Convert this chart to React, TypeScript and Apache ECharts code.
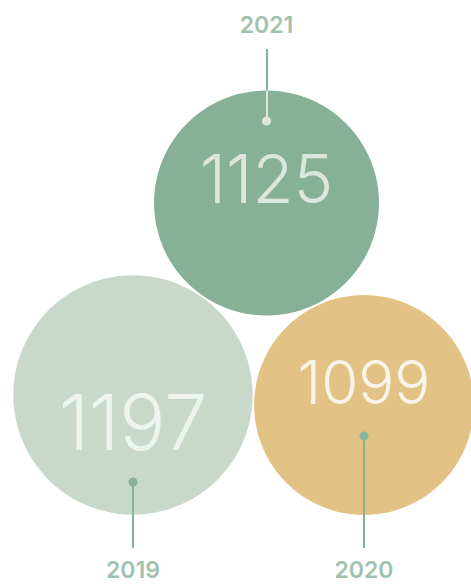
import React, { useEffect, useRef } from 'react';
import * as echarts from 'echarts';

// Data
const years = ['2019', '2020', '2021'];
const values = [1197, 1099, 1125];

// Styles
const bubbleColors = ['#c8d9cc', '#e2c285', '#86b197'];
const valueTextColors = ['#eef4ef', '#faf3e7', '#dbe7de'];
const dotColors = ['#86b197', '#86b5a0', '#dce6de'];
const innerLineColors = ['#86b197', '#86b197', '#dce6de'];
const labelColor = '#86b197';

// Layout (chart units == pixels)
const centerX = [133, 364, 266.5];
const centerY = [395, 405, 203];
const valueFontSize = [77, 60, 67];
const valueOffsetY = [27, -23, -25];
const dotY = [482, 436, 121];
const labelY = [570, 570, 25];
const lineEndY = [548, 548, 49];

export default function App() {
  const ref = useRef<HTMLDivElement>(null);
  useEffect(() => {
    if (!ref.current) return;
    const chart = echarts.init(ref.current, null, { renderer: 'svg' });
    const radius = (v: number) => v / 10;
    const edgeY = (i: number) =>
      labelY[i] < centerY[i] ? centerY[i] - radius(values[i]) : centerY[i] + radius(values[i]);

    chart.setOption({
      animation: false,
      grid: { left: 0, right: 0, top: 0, bottom: 0 },
      xAxis: { type: 'value', min: 0, max: 471, show: false },
      yAxis: { type: 'value', min: 0, max: 584, inverse: true, show: false },
      series: [
        {
          type: 'lines',
          coordinateSystem: 'cartesian2d',
          z: 1,
          silent: true,
          data: years.map((_, i) => ({
            coords: [
              [centerX[i], edgeY(i)],
              [centerX[i], lineEndY[i]],
            ],
            lineStyle: { color: labelColor, width: 2, opacity: 1 },
          })),
        },
        {
          type: 'scatter',
          z: 2,
          silent: true,
          data: values.map((v, i) => ({
            value: [centerX[i], centerY[i]],
            symbolSize: v / 5,
            itemStyle: { color: bubbleColors[i], opacity: 1 },
            label: {
              show: true,
              position: 'inside',
              formatter: String(v),
              offset: [0, valueOffsetY[i]],
              color: valueTextColors[i],
              fontSize: valueFontSize[i],
              fontFamily: 'Inter',
              fontWeight: 300,
            },
          })),
        },
        {
          type: 'lines',
          coordinateSystem: 'cartesian2d',
          z: 3,
          silent: true,
          data: years.map((_, i) => ({
            coords: [
              [centerX[i], dotY[i]],
              [centerX[i], edgeY(i)],
            ],
            lineStyle: { color: innerLineColors[i], width: 2, opacity: 1 },
          })),
        },
        {
          type: 'scatter',
          z: 4,
          silent: true,
          data: years.map((_, i) => ({
            value: [centerX[i], dotY[i]],
            symbolSize: 9,
            itemStyle: { color: dotColors[i], opacity: 1 },
          })),
        },
        {
          type: 'scatter',
          z: 5,
          silent: true,
          symbolSize: 0,
          data: years.map((y, i) => ({
            value: [centerX[i], labelY[i]],
            label: {
              show: true,
              position: 'inside',
              formatter: y,
              color: labelColor,
              fontSize: 23,
              fontFamily: 'Inter',
              fontWeight: 600,
            },
          })),
        },
      ],
    });
    return () => chart.dispose();
  }, []);
  return (
    <div
      ref={ref}
      style={{ position: 'absolute', left: 0, top: 0, width: 471, height: 584 }}
    />
  );
}
